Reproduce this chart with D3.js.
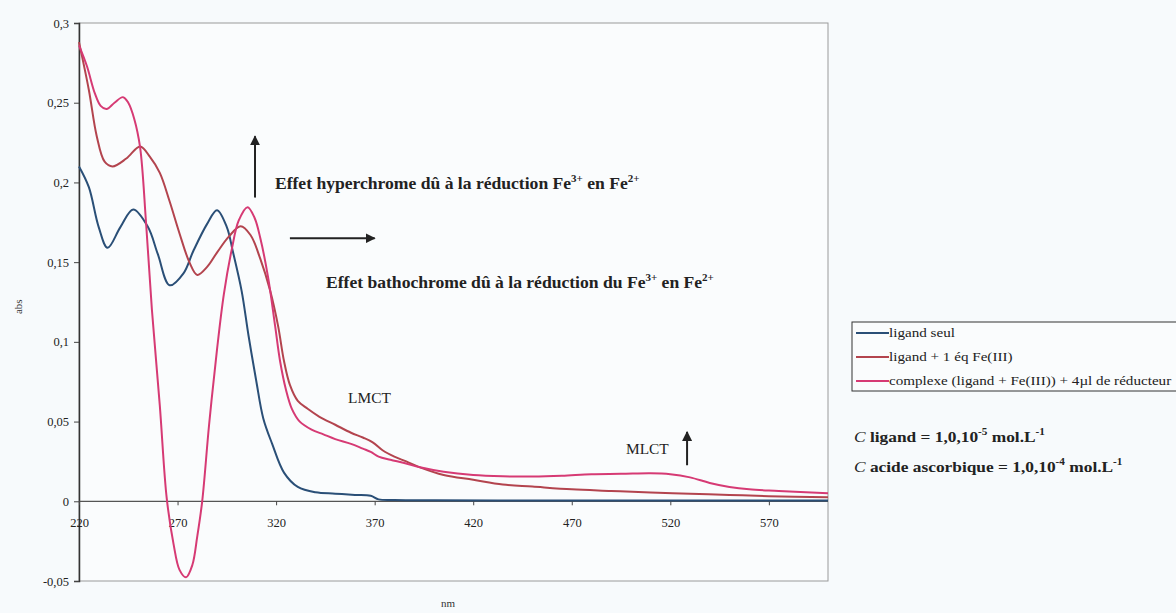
<!DOCTYPE html>
<html><head><meta charset="utf-8">
<script src="https://cdn.jsdelivr.net/npm/d3@7/dist/d3.min.js"></script>
<style>
html,body{margin:0;padding:0;background:#f7fafc;}
svg{display:block;}
svg text{font-family:"Liberation Serif","Times New Roman",serif !important;}
</style></head>
<body>
<svg id="chart" width="1176" height="613" font-family="Liberation Serif"></svg>
<script>
// ---------- DATA ----------
const xTicks = [220, 270, 320, 370, 420, 470, 520, 570];
const yTicks = [-0.05, 0, 0.05, 0.1, 0.15, 0.2, 0.25, 0.3];
const seriesNames = ["ligand seul", "ligand + 1 éq Fe(III)", "complexe (ligand + Fe(III)) + 4µl de réducteur"];

const wlLigand = [220,225,230,234.5,241,247.5,255,260,266,273,278,285,290,295,298,302.5,306,310,313.5,318,324,331,340,350,360,368,372,380,400,450,500,550,600];
const absLigand = [0.21,0.197,0.172,0.159,0.172,0.183,0.172,0.155,0.1355,0.143,0.157,0.174,0.1826,0.172,0.157,0.132,0.104,0.075,0.052,0.036,0.018,0.009,0.0056,0.0048,0.004,0.0035,0.0012,0.0008,0.0006,0.0005,0.0005,0.0005,0.0005];

const wlFe3 = [220,225,229,233,237,244,251,256,261,266,271,276,280,285,290,296,302,307,312,317,321,324,327,331,336,342,350,358,364,369,374,380,386,393,405,420,435,450,470,490,510,530,550,570,600];
const absFe3 = [0.288,0.258,0.229,0.213,0.210,0.215,0.2225,0.216,0.206,0.188,0.168,0.150,0.142,0.147,0.156,0.166,0.1725,0.167,0.152,0.132,0.11,0.088,0.073,0.063,0.058,0.053,0.048,0.043,0.040,0.037,0.032,0.028,0.025,0.0213,0.0165,0.0135,0.0105,0.0092,0.0075,0.0065,0.0055,0.0048,0.004,0.0032,0.0025];

const wlComplexe = [220,224,228,231,234,238,242.3,245,248,251,254,257,261,264.5,268,271,274.3,277.5,280,282.5,286,290,293.5,297.5,301,305.5,309,312,316,319.5,322,325,328,332,338,344,350,358,364,368,372,378,385,393,405,420,435,450,465,480,495,510,520,530,540,550,560,575,600];
const absComplexe = [0.286,0.273,0.256,0.248,0.246,0.250,0.2535,0.250,0.240,0.222,0.175,0.12,0.06,0.002,-0.027,-0.043,-0.0477,-0.04,-0.022,0,0.048,0.095,0.13,0.158,0.176,0.1845,0.178,0.165,0.14,0.11,0.088,0.07,0.058,0.05,0.045,0.042,0.039,0.036,0.033,0.031,0.028,0.026,0.024,0.0213,0.0185,0.0165,0.0157,0.0155,0.016,0.017,0.0172,0.0176,0.017,0.015,0.0115,0.009,0.0075,0.0065,0.005];

// ---------- LAYOUT ----------
const svg = d3.select("#chart");
const L = 79, R = 828, T = 23, B = 581;
const x = d3.scaleLinear().domain([220, 600]).range([L, R]);
const y = d3.scaleLinear().domain([-0.05, 0.3]).range([B, T]);
const fmt = d => String(+d.toFixed(2)).replace(".", ",");
const SERIF = "Liberation Serif";

// plot frame
svg.append("rect").attr("x", L).attr("y", T).attr("width", R - L).attr("height", B - T)
  .attr("fill", "#fafcfd").attr("stroke", "#9a9a9a").attr("stroke-width", 1);

// y axis
const yAxis = svg.append("g").attr("transform", `translate(${L},0)`)
  .call(d3.axisLeft(y).tickValues(yTicks).tickFormat(fmt).tickSize(5).tickPadding(5));
yAxis.attr("font-family", SERIF);
yAxis.select(".domain").attr("stroke", "#333").attr("stroke-width", 1.5);
yAxis.selectAll("line").attr("stroke", "#444");
yAxis.selectAll("text").attr("font-size", 12.5).attr("fill", "#222");

// x axis at zero
const xAxis = svg.append("g").attr("transform", `translate(0,${y(0)})`)
  .call(d3.axisBottom(x).tickValues(xTicks).tickFormat(d3.format("d")).tickSize(4).tickPadding(13));
xAxis.attr("font-family", SERIF);
xAxis.select(".domain").attr("stroke", "#555").attr("stroke-width", 1.2).attr("d", `M${L},0H${R}`);
xAxis.selectAll("line").attr("stroke", "#444");
xAxis.selectAll("text").attr("font-size", 12.5).attr("fill", "#222");

// axis titles
svg.append("text").attr("transform", `translate(22,${y(0.122)}) rotate(-90)`).attr("text-anchor", "middle")
  .attr("font-size", 11).attr("fill", "#333").text("abs");
svg.append("text").attr("x", 448).attr("y", 607).attr("text-anchor", "middle")
  .attr("font-size", 11).attr("fill", "#333").text("nm");

// ---------- LINES ----------
const colors = ["#2a4f77", "#b3444e", "#d63a74"];
const series = [
  {wl: wlLigand, ab: absLigand},
  {wl: wlFe3, ab: absFe3},
  {wl: wlComplexe, ab: absComplexe}
];
const line = d3.line().x(d => x(d[0])).y(d => y(d[1])).curve(d3.curveCatmullRom.alpha(0.5));
series.forEach((s, i) => {
  svg.append("path").datum(s.wl.map((w, k) => [w, s.ab[k]]))
    .attr("d", line).attr("fill", "none").attr("stroke", colors[i]).attr("stroke-width", 2);
});

// ---------- ANNOTATIONS ----------
const defs = svg.append("defs");
defs.append("marker").attr("id", "ah").attr("viewBox", "0 0 10 10").attr("refX", 9).attr("refY", 5)
  .attr("markerWidth", 5).attr("markerHeight", 5).attr("orient", "auto")
  .append("path").attr("d", "M0,0L10,5L0,10Z").attr("fill", "#222");

function arrow(x1, y1, x2, y2) {
  svg.append("line").attr("x1", x(x1)).attr("y1", y(y1)).attr("x2", x(x2)).attr("y2", y(y2))
    .attr("stroke", "#222").attr("stroke-width", 2).attr("marker-end", "url(#ah)");
}
arrow(309.3, 0.1905, 309.3, 0.229);
arrow(327, 0.165, 370, 0.165);
arrow(528.5, 0.0226, 528.5, 0.0435);

function feText(xv, yv, parts) {
  const t = svg.append("text").attr("transform", `translate(${x(xv)},${y(yv)}) scale(1.1,1)`)
    .attr("font-size", 16).attr("font-weight", "bold").attr("fill", "#222");
  parts.forEach(p => {
    if (p.sup) t.append("tspan").attr("dy", -7).attr("font-size", 10).text(p.t);
    else if (p.after) t.append("tspan").attr("dy", 7).text(p.t);
    else t.append("tspan").text(p.t);
  });
}
feText(319.4, 0.196, [{t: "Effet hyperchrome dû à la réduction Fe"}, {t: "3+", sup: true}, {t: " en Fe", after: true}, {t: "2+", sup: true}]);
feText(345.3, 0.134, [{t: "Effet bathochrome dû à la réduction du Fe"}, {t: "3+", sup: true}, {t: " en Fe", after: true}, {t: "2+", sup: true}]);

svg.append("text").attr("transform", `translate(${x(356.5)},${y(0.0615)}) scale(1.1,1)`).attr("font-size", 14).attr("fill", "#222").text("LMCT");
svg.append("text").attr("transform", `translate(${x(497.5)},${y(0.0295)}) scale(1.1,1)`).attr("font-size", 14).attr("fill", "#222").text("MLCT");

// ---------- LEGEND ----------
const lg = svg.append("g");
lg.append("rect").attr("x", 852).attr("y", 322).attr("width", 340).attr("height", 69)
  .attr("fill", "#fafcfd").attr("stroke", "#333").attr("stroke-width", 1);
seriesNames.forEach((n, i) => {
  const yy = 333 + i * 24;
  lg.append("line").attr("x1", 856).attr("x2", 889).attr("y1", yy).attr("y2", yy)
    .attr("stroke", colors[i]).attr("stroke-width", 2);
  lg.append("text").attr("transform", `translate(889,${yy + 4}) scale(1.12,1)`)
    .attr("font-size", 13.5).attr("fill", "#222").text(n);
});

// concentrations
function concText(yy, label, exp) {
  const t = svg.append("text").attr("transform", `translate(854,${yy}) scale(1.12,1)`)
    .attr("font-size", 15.5).attr("font-weight", "bold").attr("fill", "#222");
  t.append("tspan").attr("font-style", "italic").attr("font-weight", "normal").text("C");
  t.append("tspan").text(" " + label + " = 1,0,10");
  t.append("tspan").attr("dy", -7).attr("font-size", 10).text(exp);
  t.append("tspan").attr("dy", 7).text(" mol.L");
  t.append("tspan").attr("dy", -7).attr("font-size", 10).text("-1");
}
concText(442, "ligand", "-5");
concText(472, "acide ascorbique", "-4");
</script>
</body></html>
